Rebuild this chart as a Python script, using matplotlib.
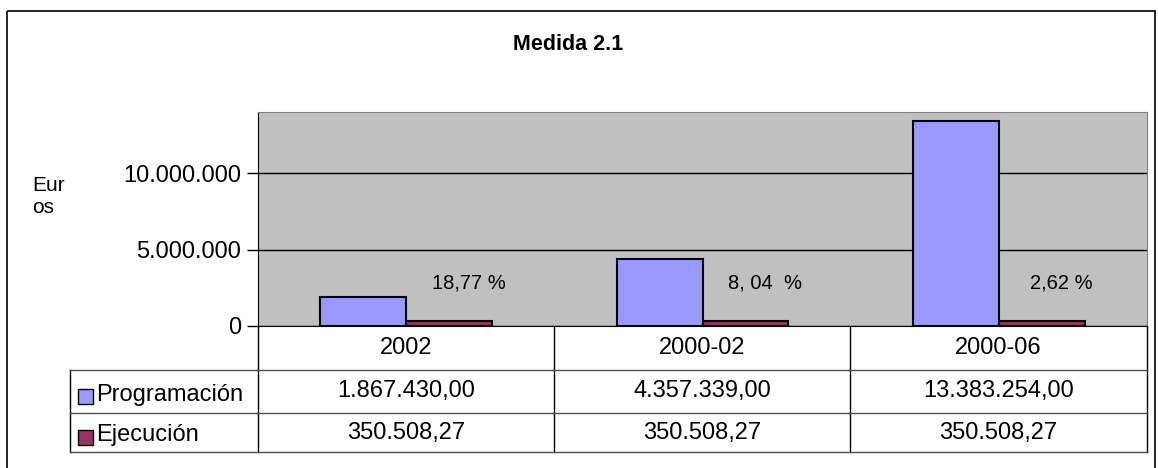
import numpy as np
import matplotlib.pyplot as plt
from matplotlib.patches import Rectangle

# datos
categorias = ["2002", "2000-02", "2000-06"]
programacion = [1867430.00, 4357339.00, 13383254.00]
ejecucion = [350508.27, 350508.27, 350508.27]
porcentajes = ["18,77 %", "8, 04  %", "2,62 %"]
series = ["Programación", "Ejecución"]
colores = ["#9999FF", "#993366"]

plt.rcParams['font.family'] = ['Liberation Sans', 'DejaVu Sans']

W, H = 1158, 468
fig = plt.figure(figsize=(W / 100, H / 100), dpi=100)


def es(v, dec=2):
    # formato español: 1.234.567,89
    s = f"{v:,.{dec}f}"
    return s.replace(",", "#").replace(".", ",").replace("#", ".")


# capa de fondo en pixeles (marco + tabla)
bg = fig.add_axes([0, 0, 1, 1])
bg.set_xlim(0, W)
bg.set_ylim(H, 0)
bg.axis('off')
bg.add_patch(Rectangle((7, 11), 1148, 470, fill=False, edgecolor='black', lw=1.2))

# zona del grafico
px_l, px_r, px_t, px_b = 258, 1147, 112, 326
ax = fig.add_axes([px_l / W, 1 - px_b / H, (px_r - px_l) / W, (px_b - px_t) / H])
ax.set_facecolor("#C0C0C0")

x = np.arange(len(categorias))
ancho = 0.29
ax.bar(x - ancho / 2, programacion, ancho, color=colores[0], edgecolor='black', lw=1.5, zorder=3)
ax.bar(x + ancho / 2, ejecucion, ancho, color=colores[1], edgecolor='black', lw=1.5, zorder=3)

for i, p in enumerate(porcentajes):
    ax.text(i + 0.21, 2.8e6, p, ha='center', va='center', fontsize=14.5, zorder=4)

ax.set_xlim(-0.5, len(categorias) - 0.5)
ax.set_ylim(0, 14e6)
ax.set_yticks([0, 5e6, 10e6])
ax.set_yticklabels([es(v, 0) for v in [0, 5e6, 10e6]], fontsize=17)
ax.set_xticks([])
ax.tick_params(axis='y', length=8, width=1, pad=4)
ax.yaxis.grid(True, color='black', lw=1, zorder=1)
ax.set_axisbelow(True)
for s in ['top', 'right']:
    ax.spines[s].set_color('#808080')
ax.spines['left'].set_color('black')
ax.spines['bottom'].set_color('black')

fig.text(568 / W, 1 - 44 / H, "Medida 2.1", ha='center', va='center', fontsize=15.5, fontweight='bold')
bg.text(32, 176, "Eur\nos", ha='left', va='top', fontsize=15, linespacing=1.2)

# tabla de datos
col_x = [258, 554, 850, 1147]
fila_y = [326, 370, 413, 452]
for cx in col_x:
    bg.plot([cx, cx], [fila_y[0], fila_y[-1]], color='black', lw=1)
bg.plot([70, 70], [fila_y[1], fila_y[-1]], color='black', lw=1)
for fy in fila_y[1:]:
    bg.plot([70, col_x[-1]], [fy, fy], color='#505050', lw=1)

filas = [categorias, [es(v) for v in programacion], [es(v) for v in ejecucion]]
for r, fila in enumerate(filas):
    yc = (fila_y[r] + fila_y[r + 1]) / 2
    for c, txt in enumerate(fila):
        xc = (col_x[c] + col_x[c + 1]) / 2
        bg.text(xc, yc, txt, ha='center', va='center', fontsize=17)

# leyenda dentro de la tabla
for r, (nombre, col) in enumerate(zip(series, colores)):
    yc = (fila_y[r + 1] + fila_y[r + 2]) / 2 + 3
    bg.add_patch(Rectangle((78, yc - 6), 15, 15, facecolor=col, edgecolor='black', lw=1))
    bg.text(96, yc, nombre, ha='left', va='center', fontsize=17)

fig.savefig("out.png", dpi=100)
